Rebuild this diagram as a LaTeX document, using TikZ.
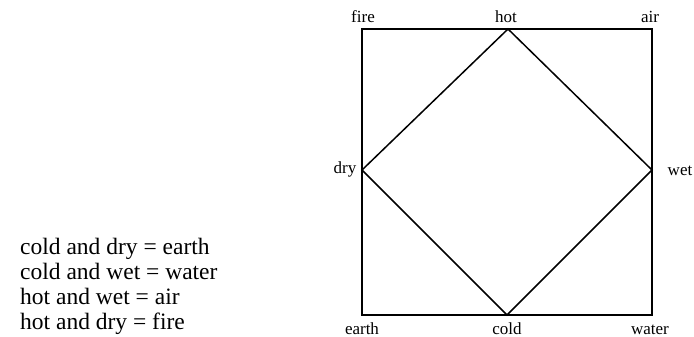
\documentclass[tikz,border=0pt]{standalone}
\usepackage{fontspec}
\setmainfont{Liberation Serif}
\begin{document}
\begin{tikzpicture}[x=1pt,y=-1pt,
  edge/.style={line width=1.5pt, line join=miter},
  corner/.style={inner sep=0pt, font=\fontsize{17}{20}\selectfont},
  legend/.style={inner sep=0pt, anchor=base west, font=\fontsize{23.5}{25}\selectfont}]
\useasboundingbox (0,0) rectangle (694,337);
% square corners and diamond vertices
\coordinate (tl) at (362,29);
\coordinate (tr) at (652,29);
\coordinate (br) at (652,315);
\coordinate (bl) at (362,315);
\coordinate (hotv) at (508,29);
\coordinate (wetv) at (652,170);
\coordinate (coldv) at (507,315);
\coordinate (dryv) at (362,170);
\draw[edge] (tl) -- (tr) -- (br) -- (bl) -- cycle;
\draw[edge] (hotv) -- (wetv) -- (coldv) -- (dryv) -- cycle;
% labels
\node[corner] (fire) at (363,17) {fire};
\node[corner] (hot) at (506,17) {hot};
\node[corner] (air) at (650,17) {air};
\node[corner, anchor=base] (earth) at (362,334.5) {earth};
\node[corner, anchor=base] (cold) at (507,334.5) {cold};
\node[corner, anchor=base] (water) at (650,334.5) {water};
\node[corner] (dry) at (345,169) {dry};
\node[corner] (wet) at (680,171) {wet};
% legend
\node[legend] (l1) at (20,254) {cold and dry = earth};
\node[legend] (l2) at (20,279) {cold and wet = water};
\node[legend] (l3) at (20,304) {hot and wet = air};
\node[legend] (l4) at (20,329) {hot and dry = fire};
\end{tikzpicture}
\end{document}
